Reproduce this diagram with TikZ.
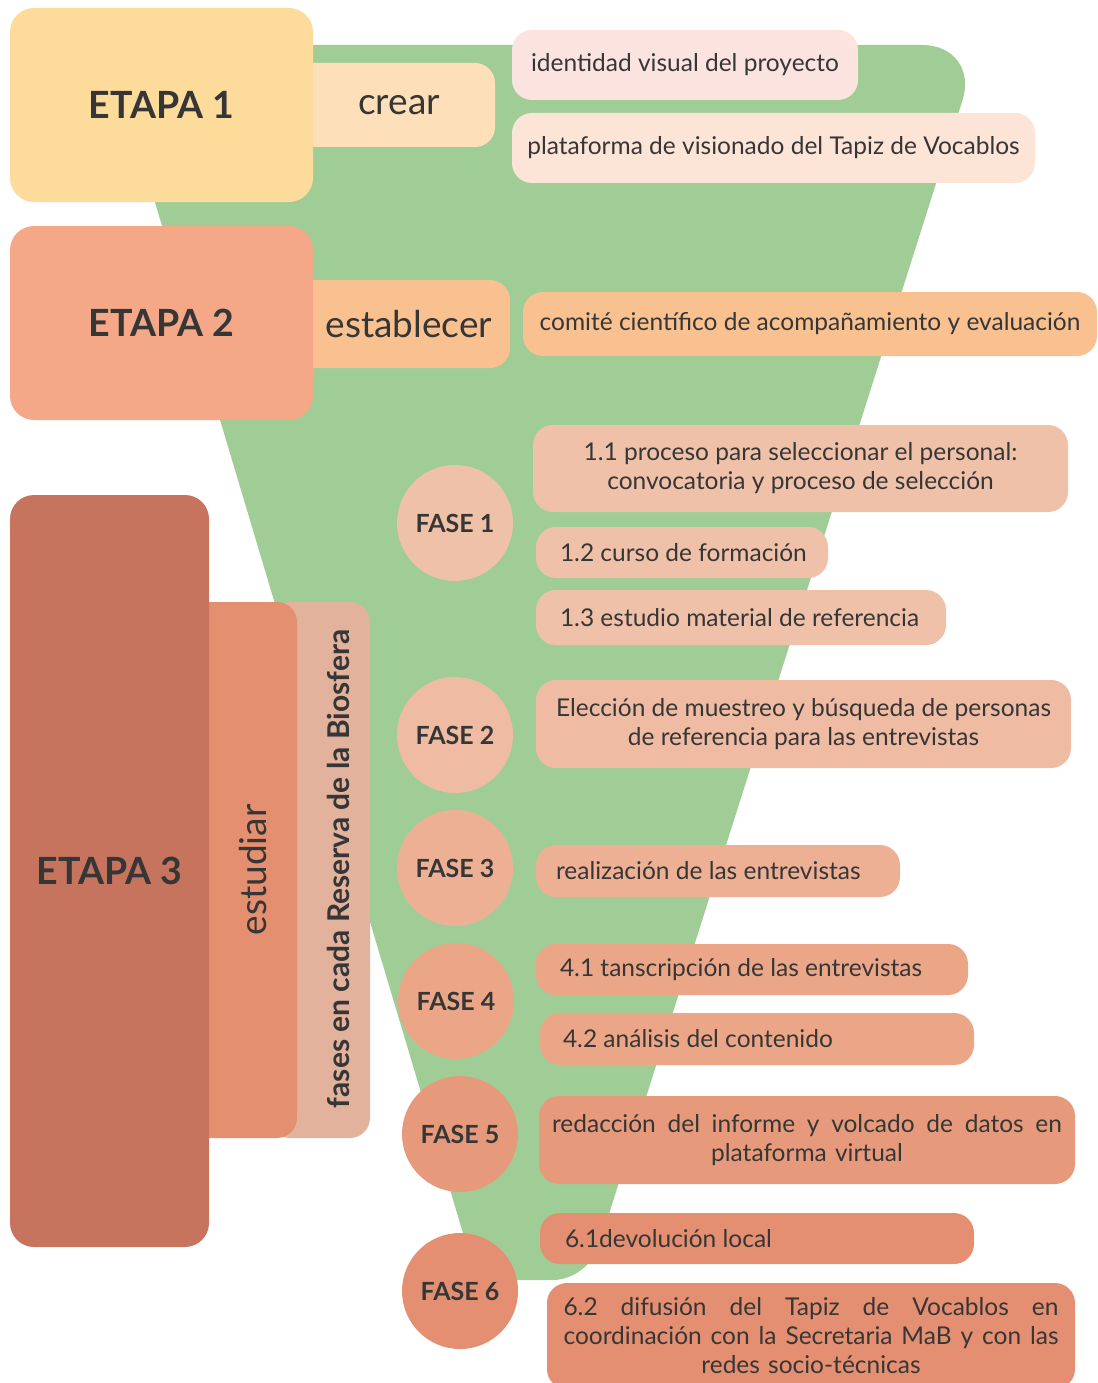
\documentclass[tikz,border=0pt]{standalone}
\usepackage{fontspec}
\setmainfont{Lato}
\definecolor{txt}{HTML}{363636}
\definecolor{cgreen}{HTML}{A0CD96}
\definecolor{cet1}{HTML}{FDDC9B}
\definecolor{ccrear}{HTML}{FDE0B9}
\definecolor{cident}{HTML}{FBE3DF}
\definecolor{cplat}{HTML}{FCE4D7}
\definecolor{cet2}{HTML}{F4A887}
\definecolor{cestab}{HTML}{F9C190}
\definecolor{cf1}{HTML}{F0C1A9}
\definecolor{cf2}{HTML}{EFBCA3}
\definecolor{cf3}{HTML}{EDB094}
\definecolor{cf4}{HTML}{EBA688}
\definecolor{cf5}{HTML}{E69A7B}
\definecolor{cf6}{HTML}{E48F71}
\definecolor{cet3}{HTML}{C7745E}
\definecolor{cestu}{HTML}{E48F70}
\definecolor{cfases}{HTML}{E3B29C}
\newcommand\fbody{\fontsize{24.5}{29}\selectfont}
\newcommand\fverb{\fontsize{37}{42}\selectfont}
\newcommand\fetapa{\fontsize{37.5}{42}\selectfont\bfseries}
\newcommand\ffase{\fontsize{25}{30}\selectfont\bfseries}
\newcommand\fvert{\fontsize{30}{34}\selectfont\bfseries}
\newcommand\spreadline[2]{\leavevmode\hbox to #1{#2}}
\tikzset{
  rbox/.style={rounded corners=20pt, inner ysep=0pt, text=txt, font=\fbody, align=center},
  etapa/.style={rounded corners=24pt, inner sep=0pt, text=txt, font=\fetapa},
  fase/.style={circle, inner sep=0pt, minimum size=116pt, text=txt, font=\ffase},
}
\begin{document}
\begin{tikzpicture}[x=1pt,y=-1pt]
\useasboundingbox (0,0) rectangle (1097,1383);
\clip (0,0) rectangle (1097,1383);
% funnel
\fill[cgreen] (108,45) [rounded corners=58pt] -- (980,45) [rounded corners=35pt] -- (588,1280) -- (477,1280) [sharp corners] -- cycle;
% stage 1 and 2 verbs
\node[rbox, fill=ccrear, minimum width=215, minimum height=84, text width=105, inner xsep=55, align=right, font=\fverb] (crear) at (387.5,105) {crear};
\node[rbox, fill=cestab, minimum width=230, minimum height=88, text width=194, inner xsep=18, align=right, font=\fverb] (establecer) at (395,324) {establecer};
\node[etapa, fill=cet1, minimum width=303, minimum height=194] (e1) at (161.5,105) {ETAPA 1};
\node[etapa, fill=cet2, minimum width=303, minimum height=194] (e2) at (161.5,323) {ETAPA 2};
% stage 1 and 2 items
\node[rbox, fill=cident, minimum width=346, minimum height=70] (ident) at (685,65) {identidad visual del proyecto};
\node[rbox, fill=cplat, minimum width=523, minimum height=70] (plat) at (773.5,148) {plataforma de visionado del Tapiz de Vocablos};
\node[rbox, fill=cestab, minimum width=574, minimum height=64] (comite) at (810,324) {comité científico de acompañamiento y evaluación};
% stage 3 side
\fill[cfases, rounded corners=20pt] (270,602) rectangle (370,1138);
\fill[cestu, rounded corners=20pt] (185,602) rectangle (297,1138);
\node[etapa, fill=cet3, minimum width=199, minimum height=752] (e3) at (109.5,871) {ETAPA 3};
\node[rotate=90, text=txt, font=\fverb] (estudiar) at (253,870) {estudiar};
\node[rotate=90, text=txt, font=\fvert] (fases) at (338,869) {fases en cada Reserva de la Biosfera};
% fases
\node[fase, fill=cf1] (f1) at (455,523) {FASE 1};
\node[fase, fill=cf2] (f2) at (455,735) {FASE 2};
\node[fase, fill=cf3] (f3) at (455,868) {FASE 3};
\node[fase, fill=cf4] (f4) at (456,1001) {FASE 4};
\node[fase, fill=cf5] (f5) at (460,1134) {FASE 5};
\node[fase, fill=cf6] (f6) at (460,1291) {FASE 6};
% phase items
\node[rbox, fill=cf1, minimum width=535, minimum height=87] (b11) at (800.5,468.5) {1.1 proceso para seleccionar el personal:\\convocatoria y proceso de selección};
\node[rbox, fill=cf1, minimum width=292, minimum height=51, inner xsep=24] (b12) at (682,552.5) {\makebox[244pt][l]{1.2 curso de formación}};
\node[rbox, fill=cf1, minimum width=410, minimum height=55, inner xsep=24] (b13) at (741,617.5) {\makebox[362pt][l]{1.3 estudio material de referencia}};
\node[rbox, fill=cf2, minimum width=535, minimum height=88] (b2) at (803.5,724) {Elección de muestreo y búsqueda de personas\\de referencia para las entrevistas};
\node[rbox, fill=cf3, minimum width=364, minimum height=52, inner xsep=20] (b3) at (718,871) {\makebox[324pt][l]{realización de las entrevistas}};
\node[rbox, fill=cf4, minimum width=432, minimum height=51, inner xsep=24] (b41) at (752,969.5) {\makebox[384pt][l]{4.1 tanscripción de las entrevistas}};
\node[rbox, fill=cf4, minimum width=434, minimum height=52, inner xsep=23] (b42) at (757,1039) {\makebox[388pt][l]{4.2 análisis del contenido}};
\node[rbox, fill=cf5, minimum width=536, minimum height=88, text width=510, inner xsep=13] (b5) at (807,1140) {\spreadline{510pt}{redacción \hfill del \hfill informe \hfill y \hfill volcado \hfill de \hfill datos \hfill en}\\plataforma virtual};
\node[rbox, fill=cf6, minimum width=434, minimum height=51, inner xsep=25] (b61) at (757,1238.5) {\makebox[384pt][l]{6.1devolución local}};
\node[rbox, fill=cf6, minimum width=528, minimum height=106, text width=495, inner xsep=16.5] (b62) at (811,1336) {\spreadline{495pt}{6.2 \hfill difusión \hfill del \hfill Tapiz \hfill de \hfill Vocablos \hfill en}\\\spreadline{495pt}{coordinación \hfill con \hfill la \hfill Secretaria \hfill MaB \hfill y \hfill con \hfill las}\\redes socio-técnicas};
\end{tikzpicture}
\end{document}
